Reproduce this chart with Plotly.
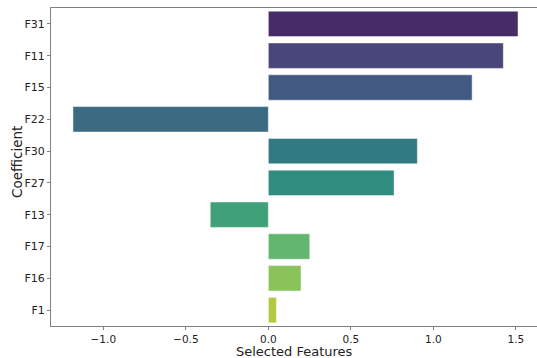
import colorsys
import plotly.graph_objects as go
from plotly.colors import sample_colorscale, unlabel_rgb

features = ["F31", "F11", "F15", "F22", "F30", "F27", "F13", "F17", "F16", "F1"]
coefficients = [1.513, 1.424, 1.235, -1.184, 0.903, 0.762, -0.352, 0.251, 0.198, 0.049]
x_ticks = [-1.0, -0.5, 0.0, 0.5, 1.0, 1.5]
x_tick_labels = ["\u22121.0", "\u22120.5", "0.0", "0.5", "1.0", "1.5"]

n = len(features)
positions = [(i + 1) / (n + 1) for i in range(n)]
raw = sample_colorscale("Viridis", positions)


def desaturate(rgb_str, prop=0.75):
    r, g, b = [v / 255 for v in unlabel_rgb(rgb_str)]
    h, l, s = colorsys.rgb_to_hls(r, g, b)
    r, g, b = colorsys.hls_to_rgb(h, l, s * prop)
    return f"rgb({round(r*255)},{round(g*255)},{round(b*255)})"


colors = [desaturate(c) for c in raw]

fig = go.Figure(
    go.Bar(
        x=coefficients,
        y=features,
        orientation="h",
        width=0.8,
        marker=dict(color=colors, line=dict(color="rgba(255,255,255,0.6)", width=0.8)),
        hoverinfo="x+y",
    )
)

font = "DejaVu Sans, Arial, sans-serif"
W, H = 537, 358
L, R, T, B = 51, 0, 8, 32
pw, ph = W - L - R, H - T - B

fig.update_layout(
    width=W,
    height=H,
    margin=dict(l=L, r=R, t=T, b=B),
    paper_bgcolor="white",
    plot_bgcolor="white",
    showlegend=False,
    font=dict(family=font, color="#222222", size=11),
    xaxis=dict(
        range=[-1.317, 1.628],
        tickvals=x_ticks,
        ticktext=x_tick_labels,
        ticks="outside",
        ticklen=3,
        tickcolor="#808080",
        showline=True,
        linecolor="#808080",
        linewidth=1,
        mirror=True,
        showgrid=False,
        zeroline=False,
        automargin=False,
        ticklabelstandoff=0,
        tickfont=dict(size=10.5),
    ),
    yaxis=dict(
        categoryorder="array",
        categoryarray=features,
        range=[9.5, -0.5],
        ticks="outside",
        ticklen=3,
        tickcolor="#808080",
        showline=True,
        linecolor="#808080",
        linewidth=1,
        showgrid=False,
        zeroline=False,
        automargin=False,
        tickfont=dict(size=11),
    ),
    annotations=[
        dict(
            text="Selected Features",
            xref="paper", yref="paper",
            x=0.5, y=(H - B - 351) / ph,
            xanchor="center", yanchor="middle",
            showarrow=False,
            font=dict(size=13),
        ),
        dict(
            text="Coefficient",
            xref="paper", yref="paper",
            x=(17 - L) / pw, y=(H - B - 162) / ph,
            xanchor="center", yanchor="middle",
            textangle=-90,
            showarrow=False,
            font=dict(size=13.5),
        ),
    ],
)

fig.write_html(
    "out.html",
    config={"displayModeBar": False},
    post_script="document.body.style.margin='0';document.body.style.overflow='hidden';",
)
